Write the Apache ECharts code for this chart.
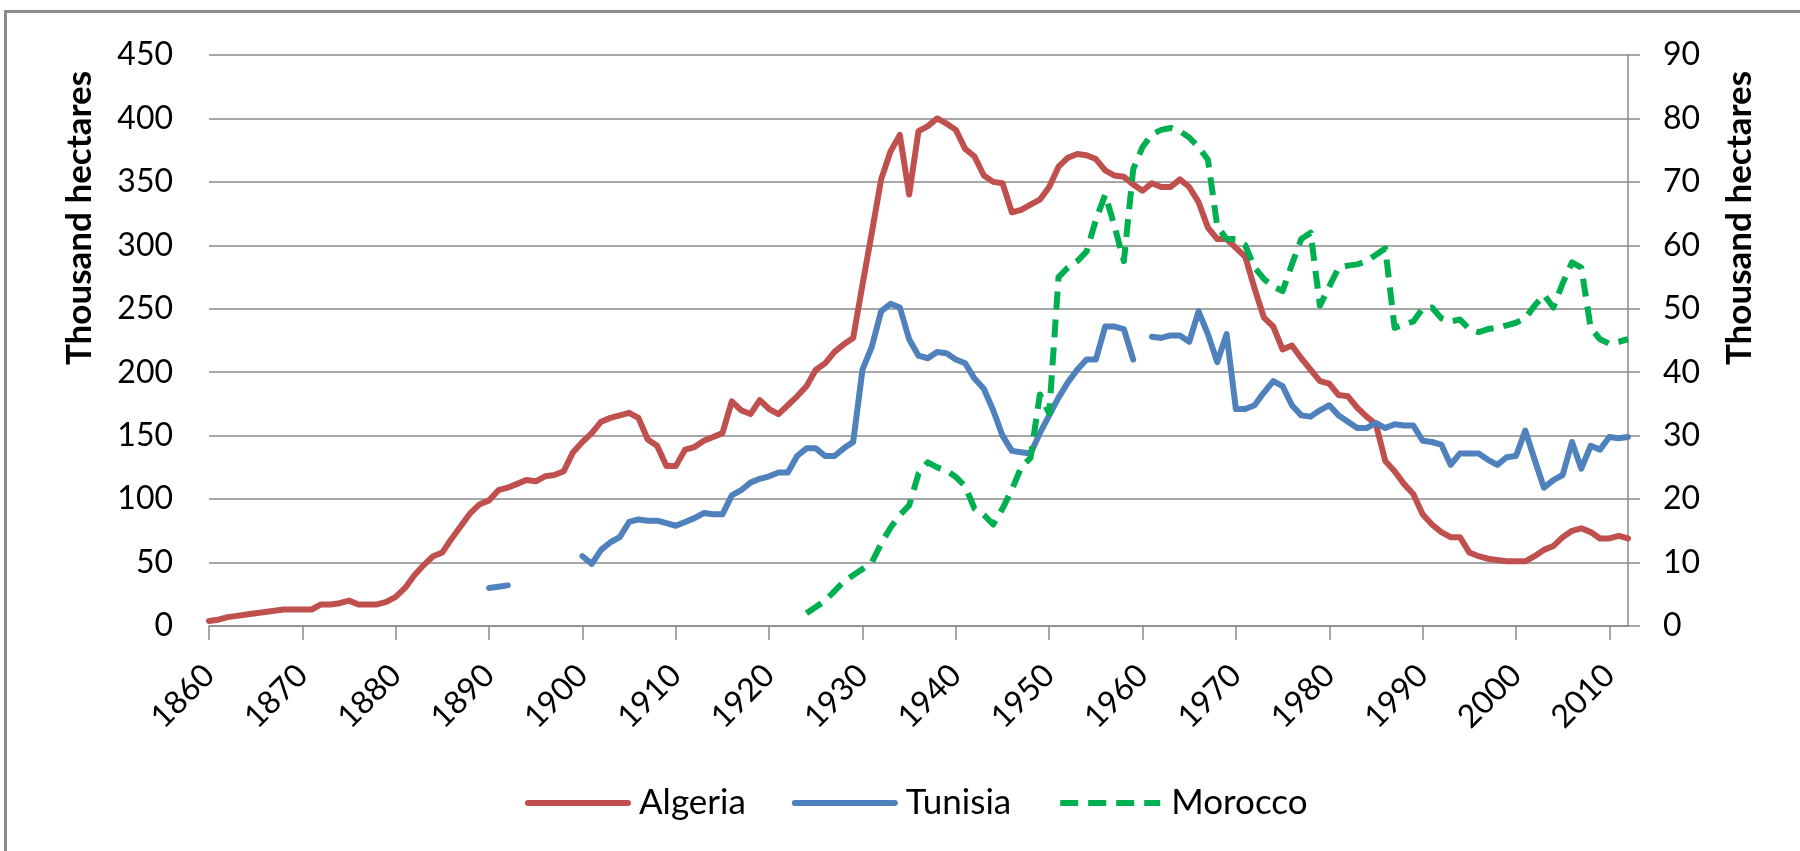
<!DOCTYPE html>
<html>
<head>
<meta charset="utf-8">
<script src="https://cdn.jsdelivr.net/npm/echarts@6/dist/echarts.min.js"></script>
<style>
  html, body { margin: 0; padding: 0; background: #fff; }
  #main { width: 1800px; height: 851px; }
</style>
</head>
<body>
<div id="main"></div>
<script>
var firstYear = 1860;
var lastYear = 2012;
var years = [];
for (var y = firstYear; y <= lastYear; y++) years.push(String(y));

// Algeria, thousand hectares, 1860-2012 (left axis)
var algeria = [
  4, 5, 7, 8, 9, 10, 11, 12, 13, 13,
  13, 13, 17, 17, 18, 20, 17, 17, 17, 19,
  23, 30, 40, 48, 55, 58, 69, 79, 89, 96,
  99, 107, 109, 112, 115, 114, 118, 119, 122, 137,
  145, 152, 161, 164, 166, 168, 164, 147, 142, 126,
  126, 139, 141, 146, 149, 152, 177, 170, 167, 178,
  171, 167, 174, 181, 189, 202, 207, 216, 222, 227,
  269, 310, 352, 374, 387, 340, 390, 394, 400, 396,
  391, 376, 370, 355, 350, 349, 326, 328, 332, 336,
  346, 362, 369, 372, 371, 368, 359, 355, 354, 348,
  343, 349, 346, 346, 352, 346, 334, 314, 305, 305,
  298, 291, 266, 243, 236, 218, 221, 211, 202, 193,
  191, 182, 181, 172, 165, 159, 130, 122, 112, 104,
  88, 80, 74, 70, 70, 58, 55, 53, 52, 51,
  51, 51, 55, 60, 63, 70, 75, 77, 74, 69,
  69, 71, 69
];

// Tunisia, thousand hectares, from 1890 (left axis), null = no data
var tunisiaStart = 1890;
var tunisia = [
  30, 31, 32, null, null, null, null, null, null, null,
  55, 49, 60, 66, 70, 82, 84, 83, 83, 81,
  79, 82, 85, 89, 88, 88, 103, 107, 113, 116,
  118, 121, 121, 134, 140, 140, 134, 134, 140, 145,
  202, 220, 248, 254, 251, 226, 213, 211, 216, 215,
  210, 207, 195, 187, 170, 150, 138, 137, 136, 152,
  166, 180, 192, 202, 210, 210, 236, 236, 234, 210,
  null, 228, 227, 229, 229, 224, 248, 230, 208, 230,
  171, 171, 174, 184, 193, 189, 174, 166, 165, 170,
  174, 166, 161, 156, 156, 160, 156, 159, 158, 158,
  146, 145, 143, 127, 136, 136, 136, 131, 127, 133,
  134, 154, 131, 109, 115, 119, 145, 124, 142, 139,
  149, 148, 149
];

// Morocco, thousand hectares, from 1924 (right axis)
var moroccoStart = 1924;
var morocco = [
  2, 3, 4, 5.5, 7, 8,
  9, 10, 13, 15.5, 17.5, 19, 24, 25.8, 25, 24.5,
  23.5, 22, 18.5, 17.5, 16, 18.5, 21.5, 25, 26.5, 36.5,
  33.5, 55, 56.5, 57.5, 59, 64, 68, 63, 57.5, 72,
  75.5, 77.5, 78.2, 78.5, 78, 77, 75.5, 73.5, 63, 61,
  61, 60, 56.5, 54.7, 53.5, 52.8, 57, 61, 62, 50.5,
  53.5, 56.5, 56.8, 57, 57.5, 58.5, 59.5, 47, 47.5, 48,
  50, 50.2, 48.5, 48, 48.3, 46.8, 46.3, 46.8, 47, 47.4,
  47.8, 48.5, 50.5, 52.2, 50.2, 54, 57.3, 56.5, 47, 45.2,
  44.5, 44.8, 45.2
];

function pad(start, arr) {
  var out = [];
  for (var y = firstYear; y < start; y++) out.push(null);
  return out.concat(arr);
}

// show a tick / label only on whole decades
function everyTen(index) {
  return index % 10 === 0;
}

var FONT = 'Lato, "Open Sans", sans-serif';
var GRID_COLOR = '#8a8a8a';
var LINE_W = 6;

var myChart = echarts.init(document.getElementById('main'));
var option = {
  backgroundColor: '#fff',
  animation: false,
  textStyle: { fontFamily: FONT },
  grid: {
    left: 209,
    right: 172,
    top: 55,
    bottom: 225,
    containLabel: false,
    outerBoundsMode: 'none'
  },
  legend: {
    data: ['Algeria', 'Tunisia', 'Morocco'],
    left: 520,
    top: 779,
    itemWidth: 100,
    itemHeight: 14,
    itemGap: 46,
    itemStyle: { opacity: 0 },
    lineStyle: { width: LINE_W },
    textStyle: {
      fontFamily: FONT,
      fontSize: 35,
      color: '#000',
      padding: [0, 0, 0, 6],
      lineHeight: 38
    }
  },
  xAxis: [
    {
      type: 'category',
      data: years,
      boundaryGap: false,
      axisLine: { lineStyle: { color: GRID_COLOR, width: 1.5 } },
      axisTick: { interval: everyTen, length: 14, lineStyle: { color: GRID_COLOR, width: 1.5 } },
      axisLabel: {
        interval: everyTen,
        rotate: 45,
        margin: 44,
        fontFamily: FONT,
        fontSize: 32,
        color: '#000'
      },
      splitLine: { show: false }
    }
  ],
  yAxis: [
    {
      type: 'value',
      min: 0,
      max: 450,
      interval: 50,
      axisLine: { show: false },
      axisTick: { show: false },
      axisLabel: { margin: 36, fontFamily: FONT, fontSize: 32, color: '#000' },
      splitLine: { lineStyle: { color: GRID_COLOR, width: 1.5 } }
    },
    {
      type: 'value',
      min: 0,
      max: 90,
      interval: 10,
      position: 'right',
      axisLine: { show: true, lineStyle: { color: GRID_COLOR, width: 1.5 } },
      axisTick: { show: true, length: 12, lineStyle: { color: GRID_COLOR, width: 1.5 } },
      axisLabel: { margin: 35, fontFamily: FONT, fontSize: 32, color: '#000' },
      splitLine: { show: false }
    }
  ],
  graphic: [
    {
      type: 'rect',
      shape: { x: 5.5, y: 11.5, width: 1850, height: 900 },
      style: { fill: 'none', stroke: '#8c8c8c', lineWidth: 3 },
      silent: true
    },
    {
      type: 'text',
      x: 80,
      y: 218,
      rotation: Math.PI / 2,
      style: {
        text: 'Thousand hectares',
        font: 'bold 35px ' + FONT,
        fill: '#000',
        align: 'center',
        verticalAlign: 'middle'
      }
    },
    {
      type: 'text',
      x: 1740,
      y: 218,
      rotation: Math.PI / 2,
      style: {
        text: 'Thousand hectares',
        font: 'bold 35px ' + FONT,
        fill: '#000',
        align: 'center',
        verticalAlign: 'middle'
      }
    }
  ],
  series: [
    {
      name: 'Algeria',
      type: 'line',
      yAxisIndex: 0,
      data: algeria,
      symbol: 'none',
      showSymbol: false,
      connectNulls: false,
      itemStyle: { color: '#C0504D' },
      lineStyle: { color: '#C0504D', width: LINE_W, join: 'round', cap: 'round' }
    },
    {
      name: 'Tunisia',
      type: 'line',
      yAxisIndex: 0,
      data: pad(tunisiaStart, tunisia),
      symbol: 'none',
      showSymbol: false,
      connectNulls: false,
      itemStyle: { color: '#4F81BD' },
      lineStyle: { color: '#4F81BD', width: LINE_W, join: 'round', cap: 'round' }
    },
    {
      name: 'Morocco',
      type: 'line',
      yAxisIndex: 1,
      data: pad(moroccoStart, morocco),
      symbol: 'none',
      showSymbol: false,
      connectNulls: false,
      itemStyle: { color: '#00B050' },
      lineStyle: { color: '#00B050', width: LINE_W, type: [18, 10], join: 'round' }
    }
  ]
};

myChart.setOption(option);
</script>
</body>
</html>
